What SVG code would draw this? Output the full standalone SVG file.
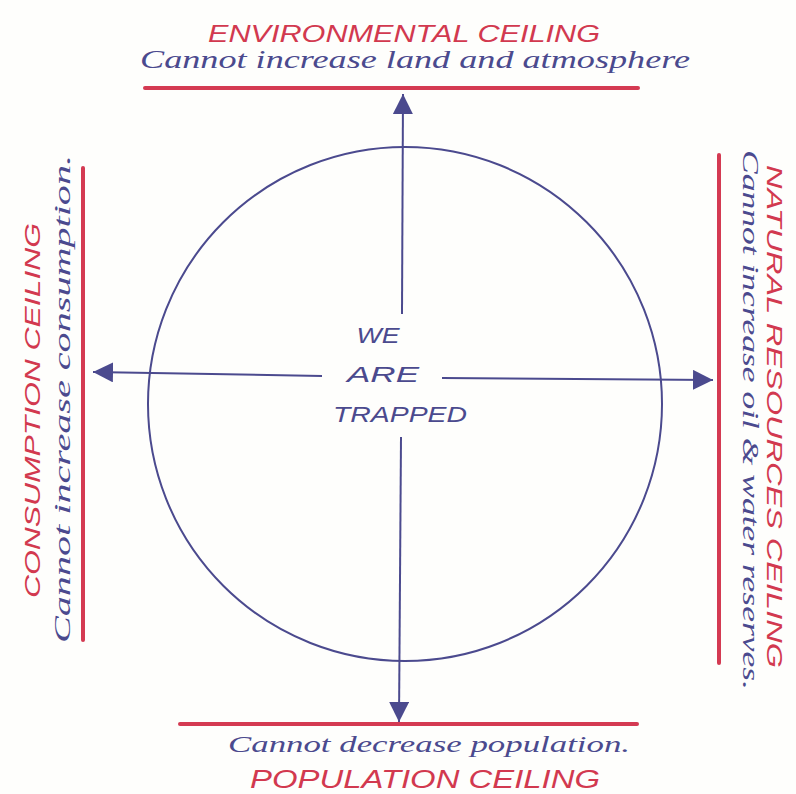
<svg xmlns="http://www.w3.org/2000/svg" width="796" height="794" viewBox="0 0 796 794">
  <defs>
    <style>
      .bg { fill: #fefefc; }
      .ceil { stroke: #d43a52; stroke-width: 4; stroke-linecap: round; fill: none; }
      .ink { stroke: #4b4a8e; stroke-width: 2; fill: none; }
      .cap { font-family: "Liberation Sans", Arial, sans-serif; font-style: italic; fill: #d2394f; }
      .note { font-family: "Liberation Serif", "Times New Roman", serif; font-style: italic; fill: #4b4a8e; }
      .center { font-family: "Liberation Sans", Arial, sans-serif; font-style: italic; fill: #4b4a8e; font-size: 22px; text-anchor: middle; }
    </style>
    <marker id="head" markerUnits="userSpaceOnUse" markerWidth="22" markerHeight="22" refX="20" refY="10" orient="auto">
      <path d="M0,0 L20,10 L0,20 Z" fill="#4b4a8e"/>
    </marker>
  </defs>
  <rect class="bg" x="0" y="0" width="796" height="794"/>

  <g id="circle">
    <circle class="ink" cx="405" cy="404" r="257"/>
  </g>

  <g id="we-are-trapped">
    <text class="center" x="378" y="343" textLength="43" lengthAdjust="spacingAndGlyphs">WE</text>
    <text class="center" x="383" y="382" textLength="72" lengthAdjust="spacingAndGlyphs">ARE</text>
    <text class="center" x="400" y="422" textLength="134" lengthAdjust="spacingAndGlyphs">TRAPPED</text>
  </g>

  <g id="environmental-ceiling">
    <line class="ceil" x1="145" y1="88" x2="638" y2="88"/>
    <text class="cap" x="208" y="42" font-size="24" textLength="392" lengthAdjust="spacingAndGlyphs">ENVIRONMENTAL CEILING</text>
    <text class="note" x="140" y="68" font-size="26" textLength="550" lengthAdjust="spacingAndGlyphs">Cannot increase land and atmosphere</text>
  </g>

  <g id="population-ceiling">
    <line class="ceil" x1="180" y1="724" x2="637" y2="724"/>
    <text class="note" x="228" y="752" font-size="24" textLength="402" lengthAdjust="spacingAndGlyphs">Cannot decrease population.</text>
    <text class="cap" x="250" y="788" font-size="26" textLength="350" lengthAdjust="spacingAndGlyphs">POPULATION CEILING</text>
  </g>

  <g id="consumption-ceiling">
    <line class="ceil" x1="83" y1="168" x2="83" y2="640"/>
    <text class="cap" transform="translate(40,598) rotate(-90)" x="0" y="0" font-size="22" textLength="375" lengthAdjust="spacingAndGlyphs">CONSUMPTION CEILING</text>
    <text class="note" transform="translate(70,643) rotate(-90)" x="0" y="0" font-size="24" textLength="488" lengthAdjust="spacingAndGlyphs">Cannot increase consumption.</text>
  </g>

  <g id="natural-resources-ceiling">
    <line class="ceil" x1="719" y1="155" x2="719" y2="663"/>
    <text class="cap" transform="translate(767,165) rotate(90)" x="0" y="0" font-size="22" textLength="503" lengthAdjust="spacingAndGlyphs">NATURAL RESOURCES CEILING</text>
    <text class="note" transform="translate(743,150) rotate(90)" x="0" y="0" font-size="24" textLength="540" lengthAdjust="spacingAndGlyphs">Cannot increase oil &amp; water reserves.</text>
  </g>

  <g id="connectors">
    <line class="ink" x1="402" y1="314" x2="403" y2="94" marker-end="url(#head)"/>
    <line class="ink" x1="401" y1="437" x2="399" y2="722" marker-end="url(#head)"/>
    <line class="ink" x1="322" y1="376" x2="93" y2="372" marker-end="url(#head)"/>
    <line class="ink" x1="442" y1="378" x2="713" y2="380" marker-end="url(#head)"/>
  </g>
</svg>
